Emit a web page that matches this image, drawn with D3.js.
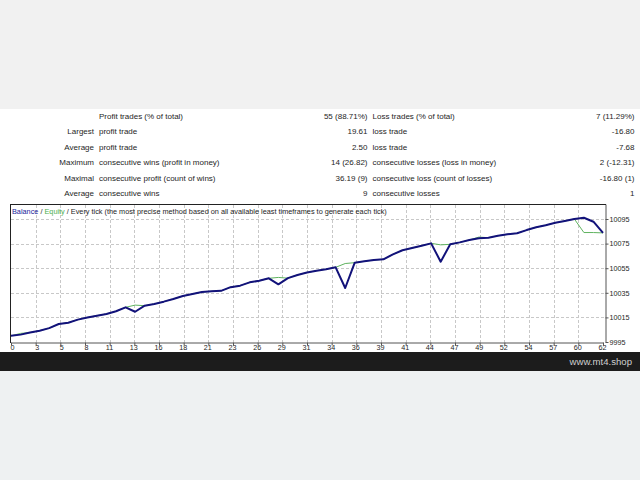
<!DOCTYPE html>
<html><head><meta charset="utf-8">
<script src="https://cdn.jsdelivr.net/npm/d3@7"></script>
<style>body{margin:0;background:#fff}svg{display:block}</style>
</head><body>
<svg id="c" width="640" height="480"></svg>
<script>
const balance = [10000,10001,10002.7,10004.2,10006.3,10009.6,10010.7,10013.2,10015.0,10016.4,
10017.8,10020.0,10023.2,10019.6,10024.5,10025.9,10027.8,10030.0,10032.4,10034.0,
10035.7,10036.2,10036.6,10039.6,10040.8,10043.5,10044.8,10046.8,10041.9,10046.9,
10049.5,10051.5,10053.0,10054.2,10055.7,10038.9,10059.5,10060.6,10061.7,10062.2,
10066.3,10069.6,10071.4,10073.2,10075.2,10060.3,10074.4,10076.0,10077.9,10079.3,
10079.8,10081.4,10082.6,10083.4,10086.0,10088.3,10090.0,10091.9,10093.4,10095.0,
10096.0,10092.8,10083.7];
const equity = [10000,10002,10002.7,10004.2,10006.3,10009.6,10010.7,10013.2,10015.0,10016.4,
10017.8,10020.0,10023.2,10025.0,10024.5,10025.9,10027.8,10030.0,10032.4,10034.0,
10035.7,10036.2,10036.6,10039.6,10040.8,10043.5,10044.8,10046.8,10047.5,10046.9,
10049.5,10051.5,10053.0,10054.2,10055.7,10058.8,10059.5,10060.6,10061.7,10062.2,
10066.3,10069.6,10071.4,10073.2,10075.2,10074.0,10074.4,10076.0,10077.9,10080.3,
10079.8,10081.4,10082.6,10083.4,10086.0,10088.3,10090.0,10091.9,10093.4,10095.0,
10084.0,10084.0,10083.7];
const xTickLabels = [0,3,5,8,11,13,16,18,21,23,26,29,31,34,36,39,41,44,47,49,52,54,57,60,62];
const yTicks = [9995,10015,10035,10055,10075,10095];

const rowLead = ["", "Largest", "Average", "Maximum", "Maximal", "Average"];
const profitLabels = ["Profit trades (% of total)", "profit trade", "profit trade",
  "consecutive wins (profit in money)", "consecutive profit (count of wins)", "consecutive wins"];
const profitValues = ["55 (88.71%)", "19.61", "2.50", "14 (26.82)", "36.19 (9)", "9"];
const lossLabels = ["Loss trades (% of total)", "loss trade", "loss trade",
  "consecutive losses (loss in money)", "consecutive loss (count of losses)", "consecutive losses"];
const lossValues = ["7 (11.29%)", "-16.80", "-7.68", "2 (-12.31)", "-16.80 (1)", "1"];

const svg = d3.select("#c");
const FONT = "Liberation Sans, Arial, sans-serif";

// backgrounds
svg.append("rect").attr("x",0).attr("y",0).attr("width",640).attr("height",109).attr("fill","#f1f1f1");
svg.append("rect").attr("x",0).attr("y",109).attr("width",640).attr("height",243).attr("fill","#ffffff");
svg.append("rect").attr("x",0).attr("y",352).attr("width",640).attr("height",19).attr("fill","#1c1c1c");
svg.append("rect").attr("x",0).attr("y",371).attr("width",640).attr("height",109).attr("fill","#eef1f2");

// table
const rowY = d3.scaleLinear().domain([0,5]).range([116,193.5]);
const tbl = svg.append("g").attr("font-family",FONT).attr("font-size","8px").attr("fill","#1e1e1e");
function col(arr, xPos, anchor){
  tbl.selectAll(null).data(arr).enter().append("text")
    .attr("x",xPos).attr("y",(d,i)=>rowY(i)).attr("dy","0.35em")
    .attr("text-anchor",anchor).text(d=>d);
}
col(rowLead, 94, "end");
col(profitLabels, 99, "start");
col(profitValues, 367.5, "end");
col(lossLabels, 372.5, "start");
col(lossValues, 634.5, "end");

// chart
const x = d3.scaleLinear().domain([0,62]).range([11,603]);
const y = d3.scaleLinear().domain([9995,10107.2]).range([342,204]);
const xTickPos = xTickLabels.map((_,k)=>k*62/(xTickLabels.length-1));

// grid
const grid = svg.append("g").attr("stroke","#c8c8c8").attr("stroke-width",1).attr("stroke-dasharray","3,2");
grid.selectAll(null).data(xTickPos.slice(1,-1)).enter().append("line")
  .attr("x1",d=>Math.round(x(d))+0.5).attr("x2",d=>Math.round(x(d))+0.5).attr("y1",205).attr("y2",342);
grid.selectAll(null).data(yTicks.slice(1)).enter().append("line")
  .attr("x1",11).attr("x2",605).attr("y1",d=>Math.round(y(d))+0.5).attr("y2",d=>Math.round(y(d))+0.5);

// x axis
const xAxis = svg.append("g").attr("transform","translate(0,342.5)")
  .call(d3.axisBottom(x).tickValues(xTickPos).tickSize(3).tickSizeOuter(0)
    .tickFormat((d,i)=>xTickLabels[i]));
xAxis.select(".domain").attr("stroke","#555");
xAxis.selectAll(".tick line").attr("stroke","#555");
xAxis.selectAll(".tick text").attr("font-family",FONT).attr("font-size","7.2px").attr("fill","#1e1e1e")
  .attr("text-anchor","end").attr("dx","3px").attr("y",2);

// y axis (right)
const yAxis = svg.append("g").attr("transform","translate(605.5,0)")
  .call(d3.axisRight(y).tickValues(yTicks).tickSize(3).tickSizeOuter(0).tickFormat(d3.format("d")));
yAxis.select(".domain").attr("stroke","#555");
yAxis.selectAll(".tick line").attr("stroke","#555");
yAxis.selectAll(".tick text").attr("font-family",FONT).attr("font-size","7.2px").attr("fill","#1e1e1e").attr("x",4);

// frame top & left
svg.append("line").attr("x1",10).attr("x2",606).attr("y1",204.5).attr("y2",204.5).attr("stroke","#222");
svg.append("line").attr("x1",10.5).attr("x2",10.5).attr("y1",204).attr("y2",343).attr("stroke","#222");

// lines
const line = d3.line().x((d,i)=>x(i)).y(d=>y(d));
svg.append("path").datum(equity).attr("d",line).attr("fill","none").attr("stroke","#5fb35f").attr("stroke-width",1);
svg.append("path").datum(balance).attr("d",line).attr("fill","none").attr("stroke","#12127a").attr("stroke-width",2)
  .attr("stroke-linejoin","round");

// legend
const lg = svg.append("text").attr("x",12).attr("y",211).attr("dy","0.35em")
  .attr("font-family",FONT).attr("font-size","7.3px").attr("fill","#1e1e1e");
lg.append("tspan").attr("fill","#1a1a9a").text("Balance");
lg.append("tspan").text(" / ");
lg.append("tspan").attr("fill","#4caf50").text("Equity");
lg.append("tspan").text(" / Every tick (the most precise method based on all available least timeframes to generate each tick)");

// footer
svg.append("text").attr("x",632).attr("y",361.5).attr("dy","0.35em").attr("text-anchor","end")
  .attr("font-family",FONT).attr("font-size","9.6px").attr("fill","#cfcfcf").text("www.mt4.shop");
</script>
</body></html>
